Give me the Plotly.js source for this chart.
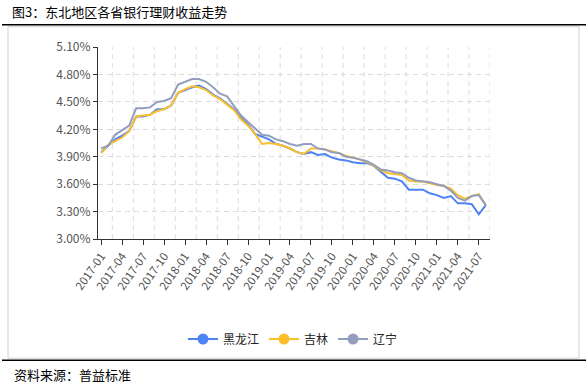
<!DOCTYPE html>
<html><head><meta charset="utf-8">
<script src="https://cdn.plot.ly/plotly-3.0.1.min.js"></script>
<style>html,body{margin:0;padding:0;background:#fff}#chart{width:588px;height:385px}</style>
</head><body><div id="chart"></div>
<script>
const months = [
 "2017-01","2017-02","2017-03","2017-04","2017-05","2017-06","2017-07","2017-08","2017-09","2017-10","2017-11","2017-12",
 "2018-01","2018-02","2018-03","2018-04","2018-05","2018-06","2018-07","2018-08","2018-09","2018-10","2018-11","2018-12",
 "2019-01","2019-02","2019-03","2019-04","2019-05","2019-06","2019-07","2019-08","2019-09","2019-10","2019-11","2019-12",
 "2020-01","2020-02","2020-03","2020-04","2020-05","2020-06","2020-07","2020-08","2020-09","2020-10","2020-11","2020-12",
 "2021-01","2021-02","2021-03","2021-04","2021-05","2021-06","2021-07","2021-08"];
const heilongjiang = [3.95,4.02,4.09,4.13,4.18,4.34,4.34,4.36,4.42,4.42,4.46,4.60,
 4.63,4.66,4.68,4.64,4.58,4.54,4.48,4.42,4.33,4.25,4.15,4.12,
 4.09,4.04,4.02,3.99,3.95,3.93,3.95,3.92,3.93,3.89,3.87,3.86,
 3.84,3.83,3.83,3.80,3.73,3.67,3.66,3.63,3.54,3.54,3.54,3.50,
 3.48,3.45,3.47,3.39,3.39,3.38,3.27,3.37];
const jilin = [3.94,4.03,4.07,4.11,4.18,4.34,4.35,4.36,4.40,4.42,4.46,4.60,
 4.64,4.67,4.66,4.63,4.57,4.53,4.47,4.41,4.31,4.24,4.15,4.04,
 4.05,4.04,4.02,3.99,3.95,3.93,3.99,3.99,3.98,3.96,3.94,3.91,
 3.89,3.87,3.84,3.80,3.75,3.72,3.71,3.70,3.64,3.63,3.63,3.61,
 3.59,3.58,3.55,3.48,3.44,3.47,3.49,3.37];
const liaoning = [3.99,4.02,4.14,4.19,4.24,4.43,4.43,4.44,4.50,4.51,4.54,4.69,
 4.72,4.75,4.75,4.72,4.66,4.59,4.56,4.46,4.35,4.28,4.21,4.14,
 4.13,4.09,4.07,4.04,4.02,4.04,4.04,3.99,3.98,3.95,3.94,3.90,
 3.89,3.87,3.85,3.81,3.76,3.75,3.73,3.72,3.67,3.64,3.63,3.62,
 3.60,3.58,3.53,3.45,3.42,3.47,3.48,3.37];
const seriesNames = ["黑龙江","吉林","辽宁"];
const tickLabels = months.filter((m,i)=>i%3===0);
const yTicks = [3.00,3.30,3.60,3.90,4.20,4.50,4.80,5.10];

const colors = ["#4f82f4","#fbbe2d","#939ebf"];
const seriesData = [heilongjiang, jilin, liaoning];
const font = "'Noto Sans CJK SC','Noto Sans',sans-serif";

const traces = [];
seriesData.forEach((d,k)=>{
  traces.push({x: months, y: d, type:'scatter', mode:'lines', name: seriesNames[k],
    line:{color: colors[k], width:2}, showlegend:false, hoverinfo:'skip'});
});
seriesData.forEach((d,k)=>{
  traces.push({x:[null], y:[null], type:'scatter', mode:'lines+markers', name: seriesNames[k],
    line:{color: colors[k], width:2}, marker:{color: colors[k], size:11}, showlegend:true});
});

// pixel helpers for decorative frame
const L=98, R=490, T=47.3, B=239;
const px = x => (x-L)/(R-L);
const py = y => (B-y)/(B-T);

const shapes = [];
for (let k=0;k<=18;k++){
  const gx = 1.6 + 3*k;
  shapes.push({type:'line', xref:'x', yref:'paper', x0:gx, x1:gx, y0:0, y1:1,
    line:{color:'#dcdcdc', width:1, dash:'5px,4px'}, layer:'below'});
}
shapes.push({type:'rect', xref:'paper', yref:'paper', x0:px(8), x1:px(579), y0:py(27), y1:py(358),
  line:{color:'#d0d0d0', width:1}, layer:'below'});
shapes.push({type:'line', xref:'paper', yref:'paper', x0:px(2), x1:px(586), y0:py(25), y1:py(25),
  line:{color:'#000', width:1.5}});
shapes.push({type:'line', xref:'paper', yref:'paper', x0:px(2), x1:px(586), y0:py(360), y1:py(360),
  line:{color:'#000', width:1.5}});

const layout = {
  width:588, height:385,
  margin:{l:L, r:588-R, t:T, b:385-B, pad:0},
  paper_bgcolor:'#fff', plot_bgcolor:'rgba(0,0,0,0)',
  font:{family:font, color:'#555', size:12},
  title:{text:'图3：东北地区各省银行理财收益走势', xref:'container', yref:'container',
    x:12/588, xanchor:'left', y:1-12/385, yanchor:'middle',
    font:{family:font, size:13, color:'#000'}},
  xaxis:{type:'category', range:[-0.45,55.6], tickmode:'array', tickvals:tickLabels, ticktext:tickLabels,
    tickangle:-55, ticks:'outside', ticklen:5, tickcolor:'#333', showline:true, linecolor:'#333', linewidth:1,
    showgrid:false, zeroline:false, tickfont:{size:11.5, color:'#555'}, fixedrange:true},
  yaxis:{range:[3.0,5.1005], tickmode:'array', tickvals:yTicks, ticktext:yTicks.map(v=>v.toFixed(2)+'%'),
    ticks:'outside', ticklen:4, tickcolor:'#333', showline:true, linecolor:'#333', linewidth:1,
    showgrid:true, gridcolor:'#dcdcdc', griddash:'5px,4px', zeroline:false,
    tickfont:{size:12, color:'#555'}, fixedrange:true},
  legend:{orientation:'h', xref:'container', yref:'container', x:293/588, xanchor:'center',
    y:1-339/385, yanchor:'middle', font:{family:font, size:12, color:'#222'},
    itemwidth:30, bgcolor:'rgba(0,0,0,0)'},
  annotations:[{text:'资料来源：普益标准', xref:'paper', yref:'paper', x:px(12), y:py(374),
    xanchor:'left', yanchor:'middle', showarrow:false, font:{family:font, size:13, color:'#000'}}],
  shapes: shapes
};
Plotly.newPlot('chart', traces, layout, {displayModeBar:false, staticPlot:true});
</script>
</body></html>
